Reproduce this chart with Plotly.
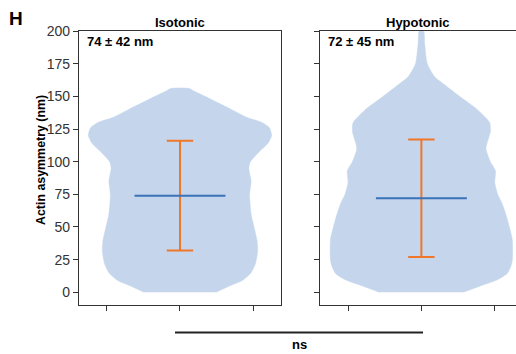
import plotly.graph_objects as go
from plotly.subplots import make_subplots

conditions = ["Isotonic", "Hypotonic"]
means = [74, 72]
sds = [42, 45]
labels = ["74 ± 42 nm", "72 ± 45 nm"]

# violin outlines: y levels and half-widths (data units)
iso_y = [0, 1, 5, 9, 15, 22, 32, 40, 50, 60, 75, 85, 95, 100, 108, 114, 120, 126, 130, 134, 140, 145, 150, 154, 156]
iso_hw = [0.49, 0.53, 0.68, 0.85, 0.97, 1.03, 1.06, 1.05, 1.01, 0.97, 0.95, 0.97, 0.94, 0.96, 1.09, 1.20, 1.25, 1.22, 1.12, 0.91, 0.70, 0.52, 0.34, 0.19, 0.13]
hyp_y = [0, 1, 5, 9.4, 14.5, 20, 25, 40, 50, 60, 68, 75, 84, 93, 100, 110, 123, 130, 140, 150, 160, 165, 175, 190, 200]
hyp_hw = [0.57, 0.62, 0.81, 1.03, 1.17, 1.22, 1.24, 1.24, 1.20, 1.15, 1.10, 1.04, 1.00, 1.01, 0.94, 0.88, 0.94, 0.93, 0.76, 0.52, 0.29, 0.18, 0.08, 0.045, 0.03]

violins = [(iso_y, iso_hw), (hyp_y, hyp_hw)]

FILL = "rgb(197,214,236)"
MEAN_C = "rgb(58,114,185)"
ERR_C = "rgb(240,118,42)"
AX_C = "#333333"
FONT = "Liberation Sans, Arial, sans-serif"

fig = make_subplots(rows=1, cols=2, horizontal_spacing=0.09)
fig.update_layout(width=516, height=354, margin=dict(l=79, r=0, t=31, b=49, autoexpand=False),
                  plot_bgcolor="white", paper_bgcolor="white", showlegend=False,
                  font=dict(family=FONT, color=AX_C))

MEAN_HW = 0.62
CAP_HW = 0.18
for i, (vy, vhw) in enumerate(violins):
    col = i + 1
    xs = [-w for w in vhw] + [w for w in vhw[::-1]]
    ys = list(vy) + list(vy[::-1])
    fig.add_trace(go.Scatter(x=xs, y=ys, mode="lines", fill="toself", fillcolor=FILL,
                             line=dict(color=FILL, width=0.5, shape="spline", smoothing=0.6),
                             hoverinfo="skip"), row=1, col=col)
    m, s = means[i], sds[i]
    fig.add_trace(go.Scatter(x=[0, 0], y=[m - s, m + s], mode="lines",
                             line=dict(color=ERR_C, width=2)), row=1, col=col)
    for yy in (m - s, m + s):
        fig.add_trace(go.Scatter(x=[-CAP_HW, CAP_HW], y=[yy, yy], mode="lines",
                                 line=dict(color=ERR_C, width=2)), row=1, col=col)
    fig.add_trace(go.Scatter(x=[-MEAN_HW, MEAN_HW], y=[m, m], mode="lines",
                             line=dict(color=MEAN_C, width=2)), row=1, col=col)

fig.update_xaxes(domain=[0, 0.4622], range=[-1.378, 1.378], row=1, col=1)
fig.update_xaxes(domain=[0.5522, 1.0], range=[-1.378, 1.29], row=1, col=2)
fig.update_xaxes(tickvals=[-1, 0, 1], ticktext=["", "", ""], ticks="outside", ticklen=5,
                 tickcolor=AX_C, tickwidth=1.2, showline=True, linecolor=AX_C, linewidth=1.3,
                 mirror=True, showgrid=False, zeroline=False, automargin=False)
fig.update_yaxes(range=[-9.7, 200], tickvals=[0, 25, 50, 75, 100, 125, 150, 175, 200],
                 ticks="outside", ticklen=5, tickcolor=AX_C, tickwidth=1.2, showline=True,
                 linecolor=AX_C, linewidth=1.3, showgrid=False, zeroline=False, automargin=False,
                 tickfont=dict(size=14, color=AX_C, family=FONT))
fig.update_yaxes(mirror=True, row=1, col=1)
fig.update_yaxes(showticklabels=False, row=1, col=2)

# y-axis title
fig.add_annotation(x=(32 - 79) / 437, y=(305 - 160) / 274, xref="paper", yref="paper", textangle=-90,
                   text="<b>Actin asymmetry (nm)</b>", showarrow=False,
                   font=dict(size=12.4, color="black", family=FONT))

# subplot titles and stat labels
for i, xd in enumerate(["x domain", "x2 domain"]):
    fig.add_annotation(x=0.5, y=1.0, xref=xd, yref="paper", yanchor="bottom", yshift=-1,
                       text=f"<b>{conditions[i]}</b>", showarrow=False,
                       font=dict(size=13, color="black", family=FONT))
    fig.add_annotation(x=0, y=1.0, xref=xd, yref="paper", xanchor="left", yanchor="top",
                       xshift=6, yshift=-1, text=f"<b>{labels[i]}</b>", showarrow=False,
                       font=dict(size=13, color="black", family=FONT))

fig.add_annotation(x=(7 - 79) / 437, y=1.0, xref="paper", yref="paper", xanchor="left", yanchor="bottom",
                   yshift=0, text="<b>H</b>", showarrow=False, font=dict(size=19, color="black", family=FONT))

# significance bracket
fig.add_shape(type="line", xref="paper", yref="paper", x0=(175 - 79) / 437, x1=(423 - 79) / 437,
              y0=-0.1, y1=-0.1, line=dict(color="#222222", width=2))
fig.add_annotation(x=(299 - 79) / 437, y=-0.11, xref="paper", yref="paper", yanchor="top",
                   text="<b>ns</b>", showarrow=False, font=dict(size=13, color="black", family=FONT))

fig.write_html("out.html", post_script="document.body.style.margin='0';",
               config={"displayModeBar": False})
